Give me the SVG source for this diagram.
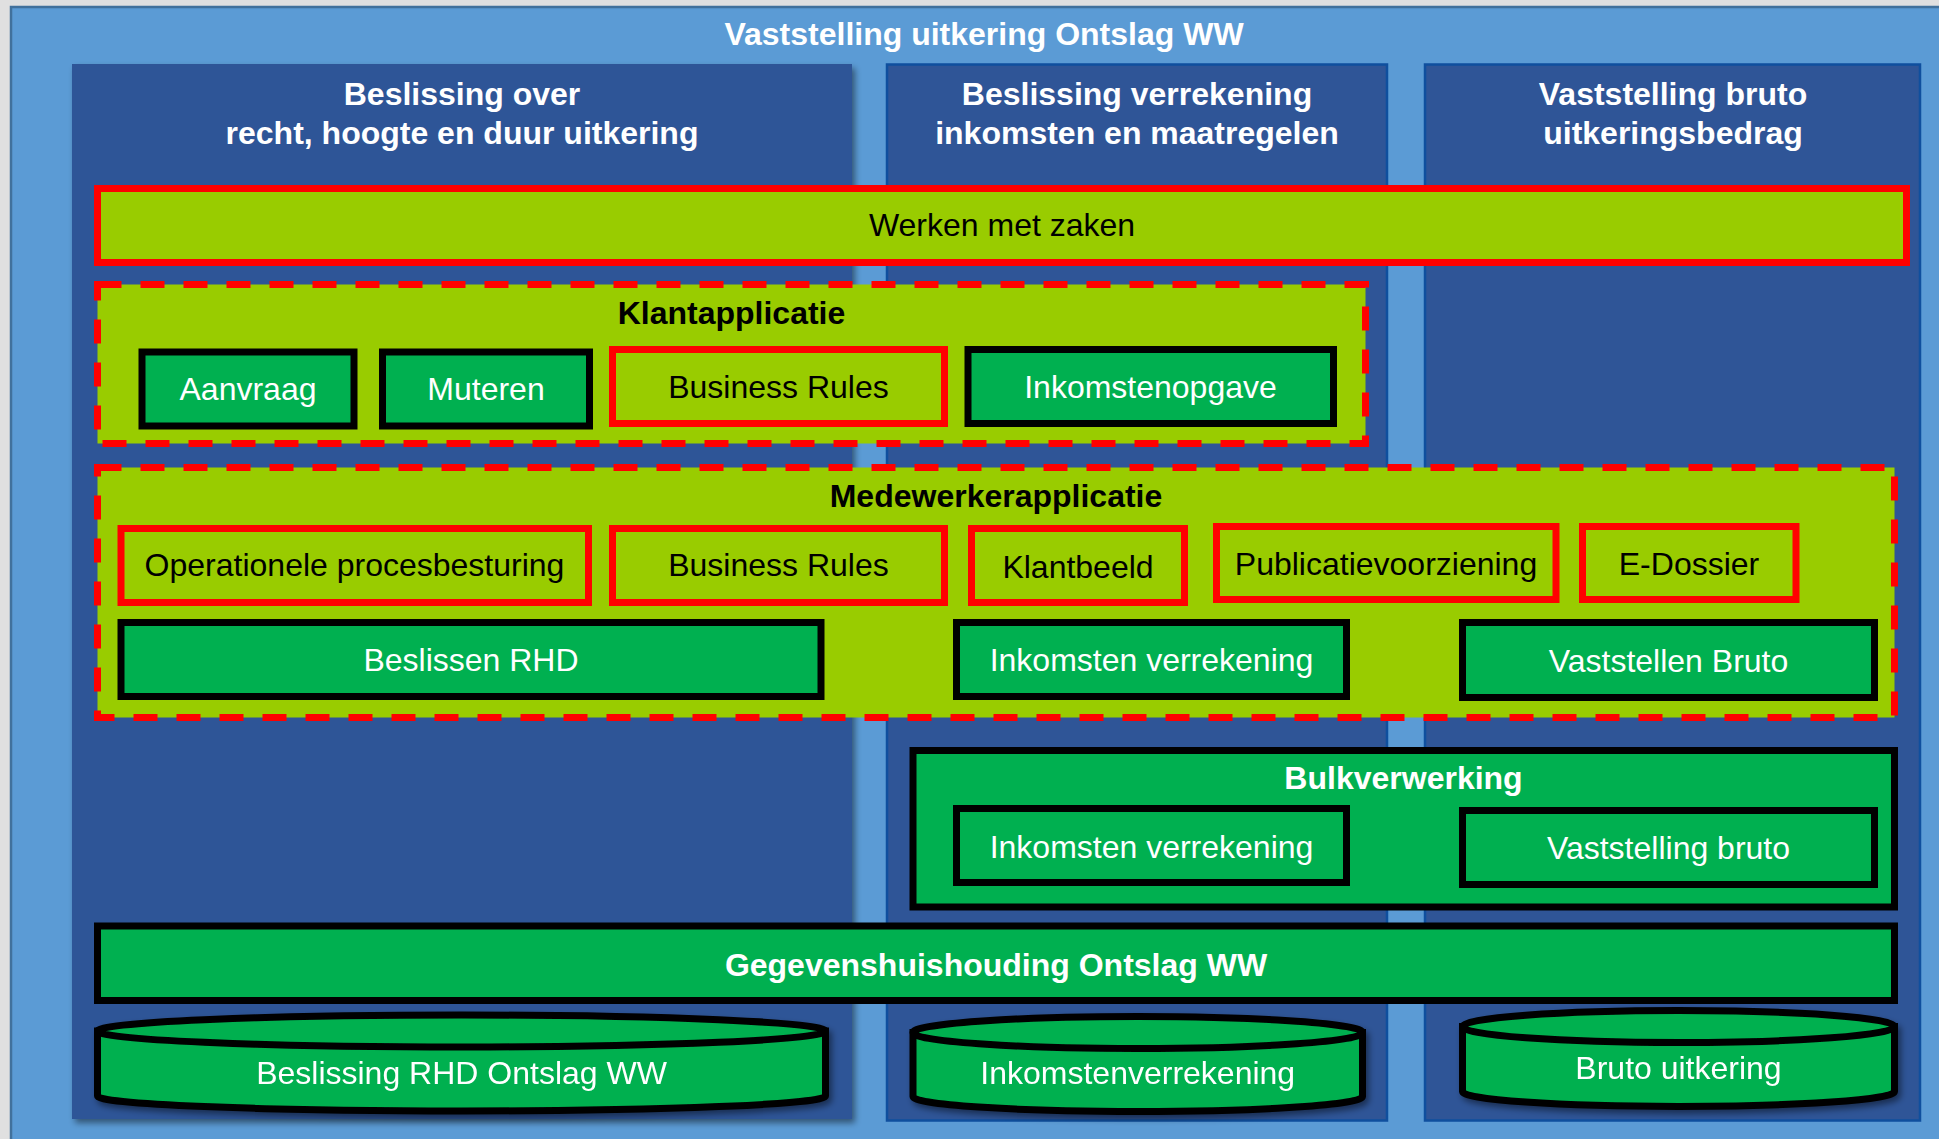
<svg xmlns="http://www.w3.org/2000/svg" width="1939" height="1139" viewBox="0 0 1939 1139">
<defs>
<style>
.t{font-family:"Liberation Sans",Arial,sans-serif;font-size:32px;text-anchor:middle}
.b{font-weight:bold}
.w{fill:#ffffff}
.k{fill:#000000}
.col{fill:#2f5597}
.colb{fill:#2f5597;stroke:#0f4f9e;stroke-width:2.5}
.gbox{fill:#00b050;stroke:#000000;stroke-width:7}
.rbox{fill:#99cc00;stroke:#ff0000;stroke-width:7}
.dash{fill:#99cc00;stroke:#ff0000;stroke-width:7;stroke-dasharray:24 19}
</style>
<filter id="sh" x="-5%" y="-5%" width="115%" height="120%">
<feDropShadow dx="3" dy="4" stdDeviation="3" flood-color="#000" flood-opacity="0.45"/>
</filter>
</defs>
<rect x="0" y="0" width="1939" height="1139" fill="#e0e0e0"/>
<g id="outer">
<rect x="11" y="7" width="1940" height="1150" fill="#5b9bd5" stroke="#41719c" stroke-width="2.5"/>
<text class="t b w" x="984" y="45">Vaststelling uitkering Ontslag WW</text>
</g>
<g id="col1">
<rect class="col" x="72" y="64" width="780" height="1055" filter="url(#sh)"/>
<text class="t b w" x="462" y="105">Beslissing over</text>
<text class="t b w" x="462" y="144">recht, hoogte en duur uitkering</text>
</g>
<g id="col2">
<rect class="colb" x="887" y="64.5" width="500" height="1056"/>
<text class="t b w" x="1137" y="105">Beslissing verrekening</text>
<text class="t b w" x="1137" y="144">inkomsten en maatregelen</text>
</g>
<g id="col3">
<rect class="colb" x="1425" y="64.5" width="495" height="1056"/>
<text class="t b w" x="1673" y="105">Vaststelling bruto</text>
<text class="t b w" x="1673" y="144">uitkeringsbedrag</text>
</g>
<g id="werken">
<rect class="rbox" x="97.5" y="188.5" width="1809" height="74"/>
<text class="t k" x="1002" y="236">Werken met zaken</text>
</g>
<g id="klantapplicatie">
<rect class="dash" x="97.5" y="284.5" width="1268" height="159"/>
<text class="t b k" x="731.5" y="324">Klantapplicatie</text>
</g>
<g id="aanvraag">
<rect class="gbox" x="142" y="352" width="212" height="74"/>
<text class="t w" x="248" y="400">Aanvraag</text>
</g>
<g id="muteren">
<rect class="gbox" x="382.5" y="352" width="207" height="74"/>
<text class="t w" x="486" y="400">Muteren</text>
</g>
<g id="br-klant">
<rect class="rbox" x="612.5" y="349.5" width="332" height="74"/>
<text class="t k" x="778.5" y="398">Business Rules</text>
</g>
<g id="inkomstenopgave">
<rect class="gbox" x="968" y="349.5" width="365.5" height="74"/>
<text class="t w" x="1150.5" y="398">Inkomstenopgave</text>
</g>
<g id="medewerkerapplicatie">
<rect class="dash" x="97.5" y="467.5" width="1797" height="250"/>
<text class="t b k" x="996" y="507">Medewerkerapplicatie</text>
</g>
<g id="opb">
<rect class="rbox" x="121" y="528.5" width="467.5" height="74"/>
<text class="t k" x="354.5" y="576">Operationele procesbesturing</text>
</g>
<g id="br-mede">
<rect class="rbox" x="612.5" y="528.5" width="332" height="74"/>
<text class="t k" x="778.5" y="576">Business Rules</text>
</g>
<g id="klantbeeld">
<rect class="rbox" x="971.5" y="528.5" width="213" height="74"/>
<text class="t k" x="1078" y="578">Klantbeeld</text>
</g>
<g id="publicatie">
<rect class="rbox" x="1216.5" y="526.5" width="339.5" height="73"/>
<text class="t k" x="1386" y="575">Publicatievoorziening</text>
</g>
<g id="edossier">
<rect class="rbox" x="1582.5" y="526.5" width="213.5" height="73"/>
<text class="t k" x="1689" y="575">E-Dossier</text>
</g>
<g id="beslissen-rhd">
<rect class="gbox" x="121" y="622.5" width="700" height="74"/>
<text class="t w" x="471" y="671">Beslissen RHD</text>
</g>
<g id="inkomsten-verrekening">
<rect class="gbox" x="956.5" y="622.5" width="390" height="74"/>
<text class="t w" x="1151.5" y="671">Inkomsten verrekening</text>
</g>
<g id="vaststellen-bruto">
<rect class="gbox" x="1462.5" y="622.5" width="412" height="75"/>
<text class="t w" x="1668.5" y="672">Vaststellen Bruto</text>
</g>
<g id="bulkverwerking">
<rect class="gbox" x="913" y="750.5" width="981.5" height="156.5"/>
<text class="t b w" x="1403.5" y="789">Bulkverwerking</text>
</g>
<g id="bulk-inkomsten">
<rect class="gbox" x="956.5" y="808.5" width="390" height="74"/>
<text class="t w" x="1151.5" y="858">Inkomsten verrekening</text>
</g>
<g id="bulk-bruto">
<rect class="gbox" x="1462.5" y="810.5" width="412" height="74"/>
<text class="t w" x="1668.5" y="859">Vaststelling bruto</text>
</g>
<g id="gegevenshuishouding">
<rect class="gbox" x="97.5" y="926" width="1797" height="74.5"/>
<text class="t b w" x="996" y="976">Gegevenshuishouding Ontslag WW</text>
</g>
<g id="db-rhd" filter="url(#sh)">
<path class="gbox" d="M97.5,1031 V1096 A364,15 0 0 0 825.5,1096 V1031 Z"/>
<ellipse class="gbox" cx="461.5" cy="1031" rx="364" ry="16"/>
<text class="t w" x="461.5" y="1084">Beslissing RHD Ontslag WW</text>
</g>
<g id="db-inkomsten" filter="url(#sh)">
<path class="gbox" d="M913,1032.5 V1096.5 A224.75,15 0 0 0 1362.5,1096.5 V1032.5 Z"/>
<ellipse class="gbox" cx="1137.75" cy="1032.5" rx="224.75" ry="16"/>
<text class="t w" x="1137.75" y="1084">Inkomstenverrekening</text>
</g>
<g id="db-bruto" filter="url(#sh)">
<path class="gbox" d="M1462.5,1026.5 V1091.5 A216,15 0 0 0 1894.5,1091.5 V1026.5 Z"/>
<ellipse class="gbox" cx="1678.5" cy="1026.5" rx="216" ry="16"/>
<text class="t w" x="1678.5" y="1079">Bruto uitkering</text>
</g>
<g id="connectors"></g>
</svg>
